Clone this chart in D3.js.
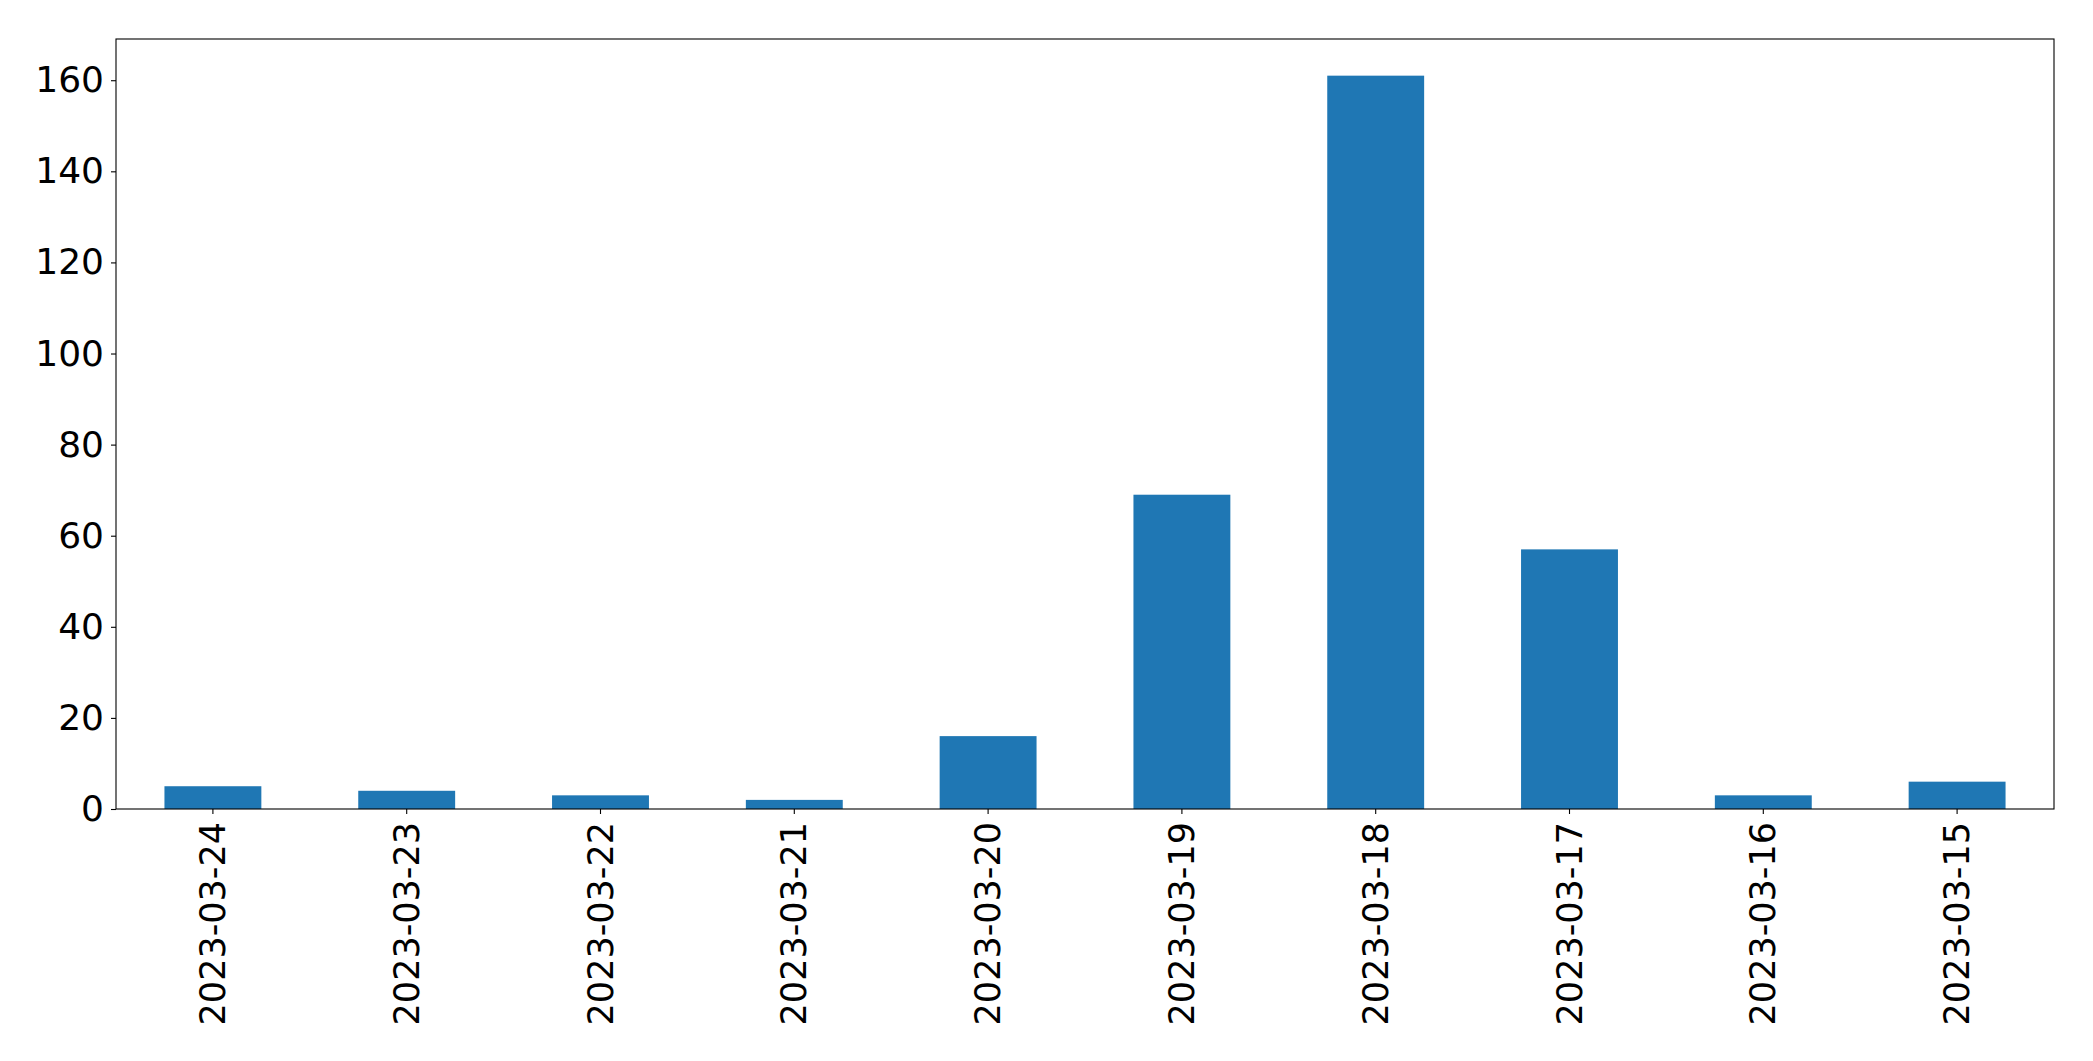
<!DOCTYPE html>
<html>
<head>
<meta charset="utf-8">
<script src="https://cdn.jsdelivr.net/npm/d3@7"></script>
<style>
  html, body { margin: 0; padding: 0; background: #fff; }
  svg { display: block; }
  .tick text { font-family: "DejaVu Sans", sans-serif; fill: #000; }
</style>
</head>
<body>
<svg id="chart" width="2093" height="1061"></svg>
<script>
const categories = ["2023-03-24", "2023-03-23", "2023-03-22", "2023-03-21", "2023-03-20",
                    "2023-03-19", "2023-03-18", "2023-03-17", "2023-03-16", "2023-03-15"];
const values = [5, 4, 3, 2, 16, 69, 161, 57, 3, 6];
const yTicks = [0, 20, 40, 60, 80, 100, 120, 140, 160];

const W = 2093, H = 1061;
const margin = { left: 116, right: 39, top: 39, bottom: 252 };
const svg = d3.select("#chart");
const x0 = margin.left, x1 = W - margin.right;
const y0 = H - margin.bottom, y1 = margin.top;

const x = d3.scaleBand().domain(categories).range([x0, x1]).paddingInner(0.5).paddingOuter(0.25);
const y = d3.scaleLinear().domain([0, d3.max(values) * 1.05]).range([y0, y1]);

svg.append("g").selectAll("rect").data(values).join("rect")
  .attr("x", (d, i) => x(categories[i]))
  .attr("width", x.bandwidth())
  .attr("y", d => y(d))
  .attr("height", d => y(0) - y(d))
  .attr("fill", "#1f77b4");

const yAxis = svg.append("g").attr("transform", `translate(${x0},0)`)
  .call(d3.axisLeft(y).tickValues(yTicks).tickSize(5).tickPadding(7).tickFormat(d3.format("d")));
yAxis.select(".domain").remove();
yAxis.selectAll(".tick line").attr("stroke", "#000").attr("stroke-width", 1.1);
yAxis.selectAll(".tick text").style("font-size", "36px");

const xAxis = svg.append("g").attr("transform", `translate(0,${y0})`)
  .call(d3.axisBottom(x).tickSize(5).tickPadding(0));
xAxis.select(".domain").remove();
xAxis.selectAll(".tick line").attr("stroke", "#000").attr("stroke-width", 1.1);
xAxis.selectAll(".tick text")
  .style("font-size", "35px")
  .attr("text-anchor", "end")
  .attr("dy", null)
  .attr("y", 0)
  .attr("x", 0)
  .attr("dominant-baseline", "central")
  .attr("transform", "translate(0,13) rotate(-90)");

svg.append("rect")
  .attr("x", x0).attr("y", y1)
  .attr("width", x1 - x0).attr("height", y0 - y1)
  .attr("fill", "none").attr("stroke", "#000").attr("stroke-width", 1.1);
</script>
</body>
</html>
